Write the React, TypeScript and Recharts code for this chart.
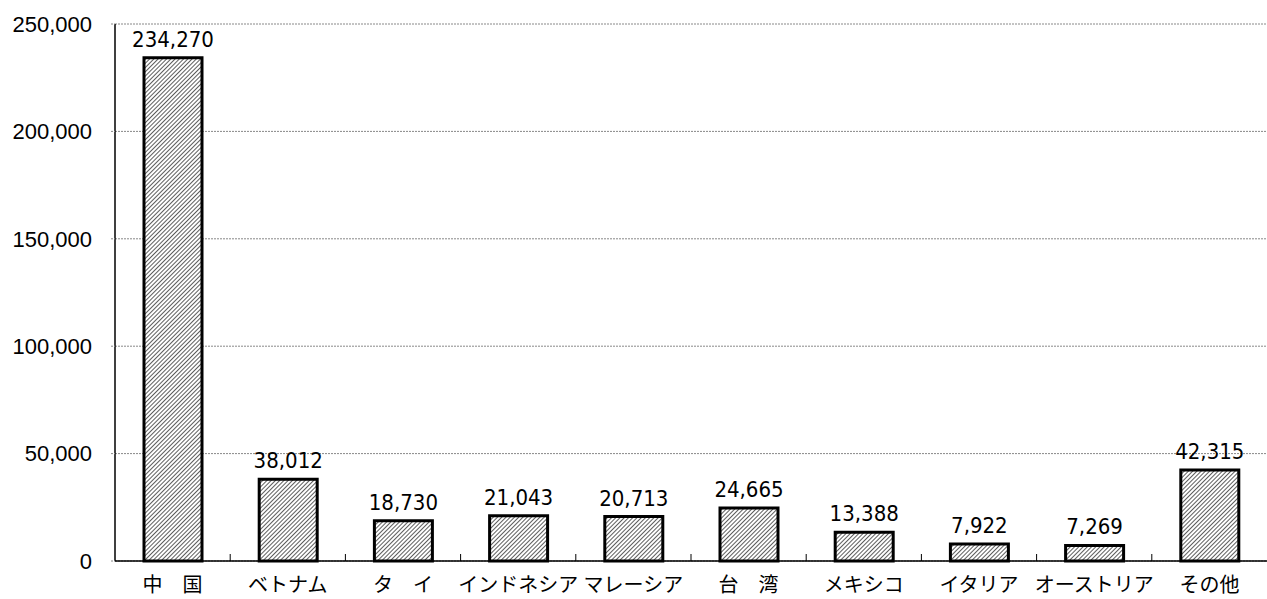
import { BarChart, Bar, XAxis, YAxis, CartesianGrid, LabelList } from 'recharts'

const countries = ['中　国', 'ベトナム', 'タ　イ', 'インドネシア', 'マレーシア', '台　湾', 'メキシコ', 'イタリア', 'オーストリア', 'その他']
const amounts = [234270, 38012, 18730, 21043, 20713, 24665, 13388, 7922, 7269, 42315]
const yTicks = [0, 50000, 100000, 150000, 200000, 250000]

const data = countries.map((name, i) => ({ name, value: amounts[i] }))

const W = 1267
const H = 599
const AXIS_W = 115
const band = (W - AXIS_W) / countries.length

const fmt = (v: number) => v.toLocaleString('en-US')

function CountryTick(props: any) {
  const { x, y, payload, index } = props
  return (
    <g>
      {index > 0 && (
        <line x1={x - band / 2} x2={x - band / 2} y1={y} y2={y - 7} stroke="#000" strokeWidth={1} />
      )}
      <text
        x={x}
        y={y + 31}
        textAnchor="middle"
        fontSize={20}
        fill="#000"
        fontFamily='"Noto Sans CJK JP", sans-serif'
      >
        {payload.value}
      </text>
    </g>
  )
}

export default function App() {
  return (
    <div style={{ position: 'absolute', left: 0, top: 0, background: '#fff' }}>
      <BarChart
        width={W}
        height={H}
        data={data}
        margin={{ top: 24, right: 0, left: 0, bottom: 0 }}
        style={{ fontFamily: '"Liberation Sans", Arial, sans-serif' }}
      >
        <defs>
          <pattern id="hatch" width="3" height="3" patternUnits="userSpaceOnUse" patternTransform="rotate(45)">
            <rect width="3" height="3" fill="#fff" />
            <line x1="0" y1="0" x2="0" y2="3" stroke="#333" strokeWidth={1.6} />
          </pattern>
        </defs>
        <CartesianGrid vertical={false} stroke="#888" strokeDasharray="2 1" />
        <XAxis
          dataKey="name"
          height={38}
          axisLine={{ stroke: '#000', strokeWidth: 1.5 }}
          tickLine={false}
          tickSize={0}
          tickMargin={0}
          interval={0}
          tick={<CountryTick />}
        />
        <YAxis
          width={AXIS_W}
          domain={[0, 250000]}
          ticks={yTicks}
          interval={0}
          axisLine={{ stroke: '#000', strokeWidth: 1.5 }}
          tickLine={{ stroke: '#888', strokeDasharray: '2 1' }}
          tickSize={4}
          tickMargin={19}
          tickFormatter={fmt}
          tick={{ fontSize: 22, fill: '#000' }}
        />
        <Bar dataKey="value" barSize={58} fill="url(#hatch)" stroke="#000" strokeWidth={3} isAnimationActive={false}>
          <LabelList
            dataKey="value"
            position="top"
            offset={11}
            formatter={(v: any) => fmt(Number(v))}
            style={{
              fontSize: 22,
              fill: '#000',
              fontFamily: '"DejaVu Sans Condensed", "Liberation Sans Narrow", "Liberation Sans", sans-serif',
            }}
          />
        </Bar>
      </BarChart>
    </div>
  )
}
